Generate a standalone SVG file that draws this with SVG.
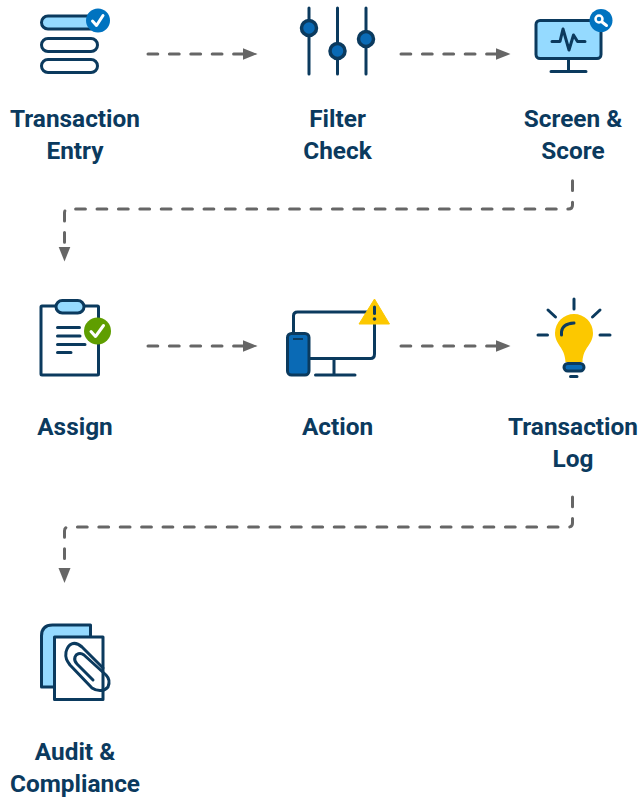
<svg xmlns="http://www.w3.org/2000/svg" width="639" height="798" viewBox="0 0 639 798">
<style>
.l{font-family:Roboto,"Liberation Sans",sans-serif;font-weight:700;font-size:24.400px;fill:#0b3a5e;text-anchor:middle}
.s{stroke:#0b3a5e;stroke-width:3;fill:none;stroke-linecap:round;stroke-linejoin:round}
.w{fill:#fff}.b{fill:#95daff}.m{fill:#0a6ab5}
.c{stroke:#666;stroke-width:3;fill:none;stroke-dasharray:9.800 11.600;stroke-linecap:round}
.h{stroke:#fff;stroke-width:3;fill:none;stroke-linecap:round;stroke-linejoin:round}
</style>
<defs>
<marker id="a" markerUnits="userSpaceOnUse" markerWidth="15" markerHeight="14" refX="1" refY="7" orient="auto"><path d="M0 1L15 7L0 13Z" fill="#666"/></marker>
</defs>
<g id="connectors">
<path class="c" d="M148 54H243.500" marker-end="url(#a)"/>
<path class="c" d="M401 54H496.500" marker-end="url(#a)"/>
<path class="c" d="M572.500 180.800V205Q572.500 209 568.500 209H68.500Q64.500 209 64.500 213V247.500" marker-end="url(#a)"/>
<path class="c" d="M148 346H243.500" marker-end="url(#a)"/>
<path class="c" d="M401 346H496.500" marker-end="url(#a)"/>
<path class="c" d="M572.500 497V523Q572.500 527 568.500 527H68.500Q64.500 527 64.500 531V569" marker-end="url(#a)"/>
</g>
<g id="transaction-entry">
<rect class="s b" x="41.500" y="16" width="56" height="13" rx="6.500"/>
<rect class="s w" x="41.500" y="38.500" width="56" height="13" rx="6.500"/>
<rect class="s w" x="41.500" y="59.500" width="56" height="13" rx="6.500"/>
<circle cx="98" cy="20.500" r="12" fill="#0073c0"/>
<path class="h" d="M92.500 21L96.500 25.500L103 15.500"/>
<text class="l" x="75" y="127">Transaction</text>
<text class="l" x="75" y="159">Entry</text>
</g>
<g id="filter-check">
<path class="s" d="M309 8V74M337.500 8V74M366 8V74"/>
<circle class="s m" style="stroke-width:3.500" cx="309" cy="28" r="7.500"/>
<circle class="s m" style="stroke-width:3.500" cx="337.500" cy="51" r="7.500"/>
<circle class="s m" style="stroke-width:3.500" cx="366" cy="39" r="7.500"/>
<text class="l" x="337.500" y="127">Filter</text>
<text class="l" x="337.500" y="159">Check</text>
</g>
<g id="screen-score">
<rect class="s b" x="536" y="20.500" width="65" height="38" rx="4"/>
<path class="s" d="M568.500 59V71M551 71.500H586M552 41.500H560L563 29L569 50L573.500 35L577.500 41.500H585"/>
<circle cx="601" cy="20.500" r="11.500" fill="#0073c0"/>
<circle cx="599" cy="19" r="3.500" fill="none" stroke="#fff" stroke-width="2.500"/>
<path class="h" d="M602 22L606.500 25.500"/>
<text class="l" x="573" y="127">Screen &amp;</text>
<text class="l" x="573" y="159">Score</text>
</g>
<g id="assign">
<rect class="s w" x="41" y="306" width="57.500" height="69" rx="1"/>
<rect class="s b" x="56" y="300.500" width="28" height="12.500" rx="6.250"/>
<path class="s" d="M57.500 327.500H79.500M57.500 336H80M57.500 344.500H85M57.500 352.500H71"/>
<circle cx="97.500" cy="331" r="13.500" fill="#5f9e00"/>
<path class="h" d="M91 331.500L95.500 336.500L103.500 325.500" stroke-width="3.500"/>
<text class="l" x="75" y="435">Assign</text>
</g>
<g id="action">
<path class="s" d="M293.500 334V316Q293.500 312 297.500 312H370.500Q374.500 312 374.500 316V354Q374.500 358.500 370.500 358.500H310"/>
<path class="s" d="M334 359V374M315.500 375H355"/>
<rect class="s m" x="287.500" y="333.500" width="21.500" height="41.500" rx="4"/>
<path d="M293 339H303" stroke="#0b3a5e" stroke-width="2"/>
<path d="M374.500 299L389.500 324H359Z" fill="#fcc800" stroke="#fcc800" stroke-width="1" stroke-linejoin="round"/>
<path class="s" d="M374.500 307V313.500"/>
<circle cx="374.500" cy="319" r="1.800" fill="#0b3a5e"/>
<text class="l" x="337.500" y="435">Action</text>
</g>
<g id="transaction-log">
<path d="M555 333A19 19 0 0 1 593 333C593 345 583 347 582.500 362H565.500C565 347 555 345 555 333Z" fill="#fcc800"/>
<path class="s" d="M574 299V309M548 310L555.500 317M600 310L592.500 317M538 335H547.500M600 335H610M561.500 335V332C562 326 566 323.500 574 323M570.500 376.500H577"/>
<rect class="s m" x="564" y="363.500" width="20" height="7.500" rx="3.750"/>
<text class="l" x="573" y="435">Transaction</text>
<text class="l" x="573" y="467">Log</text>
</g>
<g id="audit-compliance">
<path class="s b" d="M41.500 687V636Q41.500 625 52.500 625H90.500V687Z"/>
<rect class="s w" x="54.500" y="637" width="48.500" height="62.500"/>
<path class="s" d="M103 668L82 647C74 640 68 644 66 652C65 658 67 661 70 665L92 688C98 692 105 691 108 687C110 682 109 678 106 675L84 655C80 652 76 654 75 657C74 660 75 662 77 664L93 680"/>
<text class="l" x="75" y="760">Audit &amp;</text>
<text class="l" x="75" y="792">Compliance</text>
</g>
</svg>
